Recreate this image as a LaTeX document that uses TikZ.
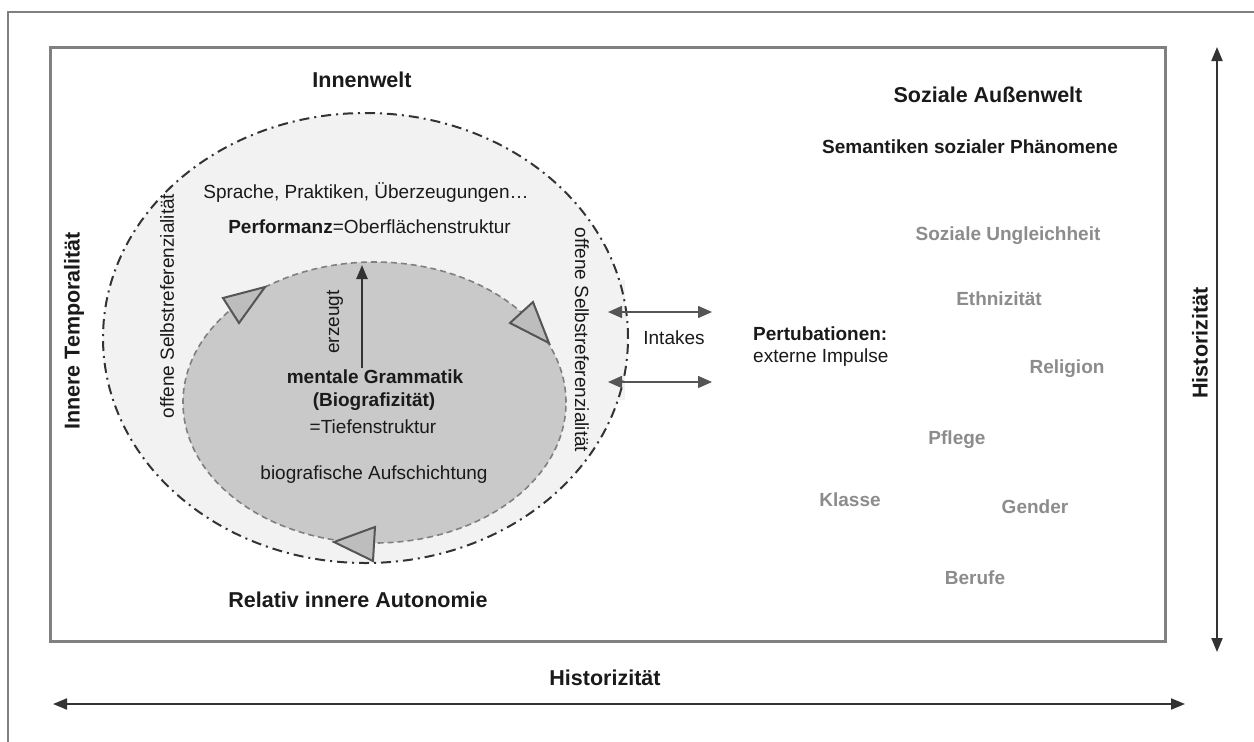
\documentclass[tikz,border=0pt]{standalone}
\usepackage{fontspec}
\setmainfont{Liberation Sans}
\usetikzlibrary{arrows.meta,shapes.geometric}
\definecolor{frameg}{HTML}{808080}
\definecolor{outerfill}{HTML}{F2F2F2}
\definecolor{innerfill}{HTML}{C9C9C9}
\definecolor{trifill}{HTML}{BDBDBD}
\definecolor{darkline}{HTML}{333333}
\definecolor{midline}{HTML}{555555}
\definecolor{graytext}{HTML}{8C8C8C}
\definecolor{txt}{HTML}{1A1A1A}
\tikzset{
  reg/.style={inner sep=0pt, text=txt, font=\fontsize{19}{22}\selectfont},
  bld/.style={inner sep=0pt, text=txt, font=\fontsize{19}{22}\selectfont\bfseries},
  hd/.style={inner sep=0pt, text=txt, font=\fontsize{21.5}{25}\selectfont\bfseries},
  semlabel/.style={inner sep=0pt, text=graytext, font=\fontsize{19}{22}\selectfont\bfseries},
  outerell/.style={ellipse, draw=darkline, line width=2pt, fill=outerfill,
     dash pattern=on 10pt off 5pt on 2pt off 5pt, inner sep=0pt},
  innerell/.style={ellipse, draw=frameg, line width=1.6pt, fill=innerfill,
     dash pattern=on 6pt off 4pt, inner sep=0pt},
  tri/.style={draw=midline, fill=trifill, line width=2pt, line join=miter},
  bigarrow/.style={draw=darkline, line width=2pt, {Triangle[length=14pt,width=11pt]}-{Triangle[length=14pt,width=11pt]}},
  dblarrow/.style={draw=midline, line width=1.5pt, {Triangle[length=14pt,width=12pt]}-{Triangle[length=14pt,width=12pt]}},
  uparrow/.style={draw=darkline, line width=2.5pt, -{Triangle[length=14pt,width=11pt]}},
}
\begin{document}
\begin{tikzpicture}[x=1pt,y=-1pt]
\useasboundingbox[fill=white] (0,0) rectangle (1254,742);
% outer (partial) frame
\draw[frameg, line width=1.2pt] (8,742) -- (8,12) -- (1254,12);
% inner frame
\draw[frameg, line width=3pt] (50,47) rectangle (1165,641);
% light band right of ellipse
\fill[outerfill] (592,280) rectangle (625,400);
% ellipses
\node[outerell, minimum width=525pt, minimum height=450pt] (outer) at (365.5,338) {};
\node[innerell, minimum width=383pt, minimum height=281pt] (inner) at (374.5,402.5) {};
% triangles
\draw[tri] (223,298) -- (265,287) -- (239,323) -- cycle;
\draw[tri] (510,323) -- (533,302) -- (549,343) -- cycle;
\draw[tri] (334,542) -- (375,527) -- (373,561) -- cycle;
% texts inside
\node[hd] (innenwelt) at (362,80) {Innenwelt};
\node[reg] (sprache) at (366,193) {Sprache, Praktiken, Überzeugungen…};
\node[reg] (perf) at (369.5,227) {{\bfseries Performanz}=Oberflächenstruktur};
\node[reg, rotate=90] (erzeugt) at (335,322) {erzeugt};
\coordinate (erzA) at (362,368);
\coordinate (erzB) at (362,265);
\draw[uparrow] (erzA) -- (erzB);
\node[bld] (mg) at (375,377) {mentale Grammatik};
\node[bld] (bio) at (374,402) {(Biografizität)};
\node[reg] (tief) at (373,427) {=Tiefenstruktur};
\node[reg] (aufsch) at (374,475) {biografische Aufschichtung};
\node[reg, rotate=90] (selbstL) at (167,306) {offene Selbstreferenzialität};
\node[reg, rotate=-90] (selbstR) at (582,340) {offene Selbstreferenzialität};
\node[hd, rotate=90] (temp) at (74,331) {Innere Temporalität};
\node[hd] (auton) at (358,600) {Relativ innere Autonomie};
% intakes
\coordinate (iaL) at (608,312);
\coordinate (iaR) at (712,312);
\coordinate (ibL) at (608,382);
\coordinate (ibR) at (712,382);
\draw[dblarrow] (iaL) -- (iaR);
\draw[dblarrow] (ibL) -- (ibR);
\node[reg] (intakes) at (674,338) {Intakes};
\node[bld, anchor=west] (pert) at (753,334) {Pertubationen:};
\node[reg, anchor=west] (ext) at (753,358) {externe Impulse};
% outer world
\node[hd] (aussen) at (988,95) {Soziale Außenwelt};
\node[bld] (sem) at (970,147) {Semantiken sozialer Phänomene};
\node[semlabel] (ungl) at (1008,236) {Soziale Ungleichheit};
\node[semlabel] (ethn) at (999,299) {Ethnizität};
\node[semlabel] (relig) at (1067,369) {Religion};
\node[semlabel] (pflege) at (957,440) {Pflege};
\node[semlabel] (klasse) at (850,500) {Klasse};
\node[semlabel] (gender) at (1035,507) {Gender};
\node[semlabel] (berufe) at (975,578) {Berufe};
% historizitaet arrows
\coordinate (vTop) at (1217,47);
\coordinate (vBot) at (1217,652);
\draw[bigarrow] (vTop) -- (vBot);
\node[hd, rotate=90] (histV) at (1200,343) {Historizität};
\coordinate (hL) at (53,704);
\coordinate (hR) at (1185,704);
\draw[bigarrow] (hL) -- (hR);
\node[hd] (histH) at (605,678) {Historizität};
\end{tikzpicture}
\end{document}
